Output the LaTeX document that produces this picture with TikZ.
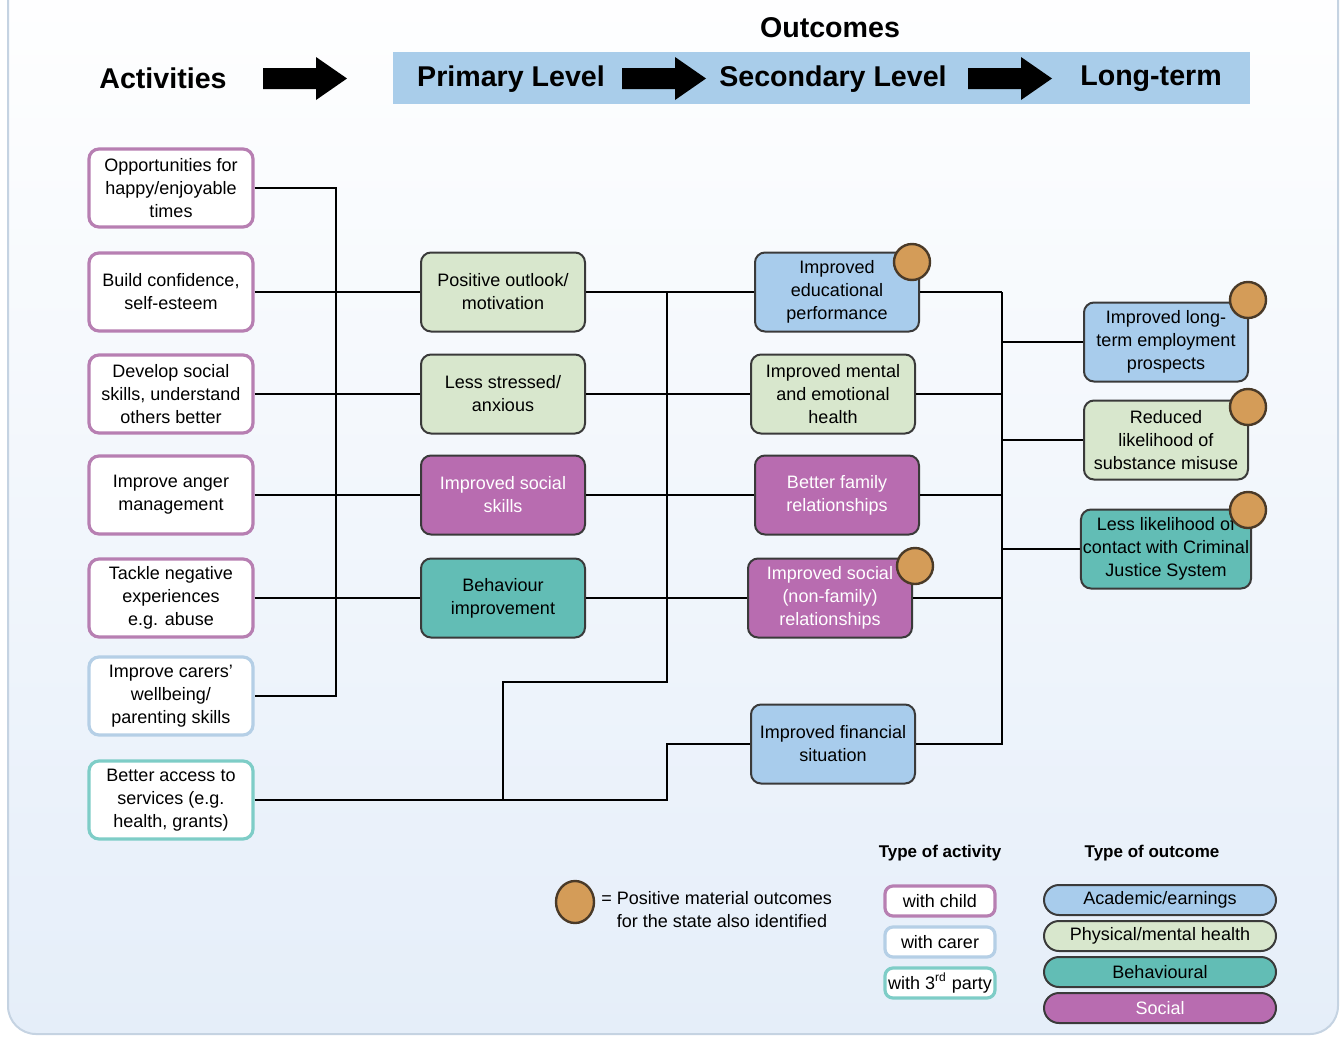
\documentclass[tikz,border=0pt]{standalone}
\usepackage{fontspec}
\setmainfont{Liberation Sans}
\usetikzlibrary{shapes.geometric}

\definecolor{hdr}{HTML}{A9CDEA}
\definecolor{acad}{HTML}{A8CCEC}
\definecolor{phys}{HTML}{D8E7CD}
\definecolor{behav}{HTML}{62BDB5}
\definecolor{social}{HTML}{B86CB0}
\definecolor{matc}{HTML}{D49C58}
\definecolor{dotline}{HTML}{4A3A28}
\definecolor{boxline}{HTML}{3A3A3A}
\definecolor{childc}{HTML}{B77FB2}
\definecolor{carerc}{HTML}{B5CFE6}
\definecolor{partyc}{HTML}{7ECDC7}
\definecolor{bgc}{HTML}{E5EEF9}
\definecolor{panelc}{HTML}{C5D3E2}

\newcommand{\boxfont}{\fontsize{9}{11.5}\selectfont}
\newcommand{\hdfont}{\fontsize{14.3}{17}\selectfont\bfseries}
\newcommand{\keyhd}{\fontsize{8.5}{10}\selectfont\bfseries}

\begin{document}
\begin{tikzpicture}[x=0.5pt,y=-0.5pt,
    actbox/.style={draw,line width=1.6pt,rounded corners=5pt,fill=white,minimum width=82pt,minimum height=39pt,inner sep=1pt,align=center,font=\boxfont},
    outbox/.style={draw=boxline,line width=1pt,rounded corners=5pt,minimum width=82pt,minimum height=39.5pt,inner sep=1pt,align=center,font=\boxfont},
    matdot/.style={circle,draw=dotline,fill=matc,line width=1.2pt,minimum size=18pt,inner sep=0pt},
    keyact/.style={draw,line width=1.6pt,rounded corners=4pt,fill=white,minimum width=55pt,minimum height=15pt,inner sep=1pt,font=\boxfont},
    keyout/.style={draw=boxline,line width=1pt,rounded corners=7.5pt,minimum width=116pt,minimum height=15pt,inner sep=1pt,font=\boxfont},
    link/.style={line width=1.3pt}]
    \useasboundingbox (0,0) rectangle (1344,1039);

    % panel and header
    \shade[top color=white,bottom color=bgc,draw=panelc,line width=1pt,rounded corners=14pt] (8,-40) rectangle (1338,1034);
    \fill[hdr] (393,52) rectangle (1250,104);
    \foreach \ax in {263,622,968}
    {
        \fill (\ax,68) -- ++(53,0) -- ++(0,-11) -- ++(31,21.5) -- ++(-31,21.5) -- ++(0,-11) -- ++(-53,0) -- cycle;
    }
    \node (outc) at (830,28)[font=\hdfont]{Outcomes};
    \node (acts) at (163,78)[font=\hdfont]{Activities};
    \node (prim) at (511,79)[font=\hdfont]{Primary Level};
    \node (secl) at (833,79)[font=\hdfont]{Secondary Level};
    \node (lterm) at (1151,79)[font=\hdfont]{Long-term};

    % activities
    \node (a1) at (171,188)[actbox,draw=childc]{Opportunities for\\happy/enjoyable\\times};
    \node (a2) at (171,292)[actbox,draw=childc]{Build confidence,\\self-esteem};
    \node (a3) at (171,394)[actbox,draw=childc]{Develop social\\skills, understand\\others better};
    \node (a4) at (171,495)[actbox,draw=childc]{Improve anger\\management};
    \node (a5) at (171,598)[actbox,draw=childc]{Tackle negative\\experiences\\e.g. abuse};
    \node (a6) at (171,696)[actbox,draw=carerc]{Improve carers'\\wellbeing/\\parenting skills};
    \node (a7) at (171,800)[actbox,draw=partyc]{Better access to\\services (e.g.\\health, grants)};

    % primary
    \node (p1) at (503,292)[outbox,fill=phys]{Positive outlook/\\motivation};
    \node (p2) at (503,394)[outbox,fill=phys]{Less stressed/\\anxious};
    \node (p3) at (503,495)[outbox,fill=social,text=white]{Improved social\\skills};
    \node (p4) at (503,598)[outbox,fill=behav]{Behaviour\\improvement};

    % secondary
    \node (s1) at (837,292)[outbox,fill=acad]{Improved\\educational\\performance};
    \node (s2) at (833,394)[outbox,fill=phys]{Improved mental\\and emotional\\health};
    \node (s3) at (837,495)[outbox,fill=social,text=white]{Better family\\relationships};
    \node (s4) at (830,598)[outbox,fill=social,text=white]{Improved social\\(non-family)\\relationships};
    \node (f) at (833,744)[outbox,fill=acad]{Improved financial\\situation};

    % long-term
    \node (l1) at (1166,342)[outbox,fill=acad]{Improved long-\\term employment\\prospects};
    \node (l2) at (1166,440)[outbox,fill=phys]{Reduced\\likelihood of\\substance misuse};
    \node (l3) at (1166,549)[outbox,fill=behav]{Less likelihood of\\contact with Criminal\\Justice System};

    % buses
    \coordinate (b1) at (336,0);
    \coordinate (b2) at (667,0);
    \coordinate (b3) at (503,682);
    \coordinate (b4) at (1002,0);

    \draw[link] (a1.east) -| (b1 |- a6.east) -- (a6.east);
    \foreach \a/\p/\s in {a2/p1/s1,a3/p2/s2,a4/p3/s3,a5/p4/s4}
    {
        \draw[link] (\a.east) -- (\p.west) (\p.east) -- (\s.west) (\s.east) -- (b4 |- \s.east);
    }
    \draw[link] (b2 |- p1.east) -- (b2 |- b3) -- (b3) -- (b3 |- a7.east);
    \draw[link] (a7.east) -| (b2 |- f.west) -- (f.west);
    \draw[link] (b4 |- s1.east) -- (b4 |- f.east) -- (f.east);
    \foreach \n in {l1,l2,l3}
    {
        \draw[link] (b4 |- \n.west) -- (\n.west);
    }

    % material outcome dots
    \foreach \cx/\cy [count=\i] in {912/262,915/566,1248/300,1248/407,1248/510}
    {
        \node (dot\i) at (\cx,\cy)[matdot]{};
    }

    % key
    \node (keydot) at (575,902)[matdot,ellipse,minimum width=19pt,minimum height=21pt]{};
    \node (keytxt) at (601,910)[anchor=west,align=left,inner sep=0pt,font=\boxfont]{= Positive material outcomes\\\phantom{= }for the state also identified};
    \node (acthd) at (940,853)[font=\keyhd]{Type of activity};
    \node (outhd) at (1152,853)[font=\keyhd]{Type of outcome};
    \node (ka1) at (940,901)[keyact,draw=childc]{with child};
    \node (ka2) at (940,942)[keyact,draw=carerc]{with carer};
    \node (ka3) at (940,983)[keyact,draw=partyc]{with 3\textsuperscript{rd} party};
    \node (ko1) at (1160,900)[keyout,fill=acad]{Academic/earnings};
    \node (ko2) at (1160,936)[keyout,fill=phys]{Physical/mental health};
    \node (ko3) at (1160,972)[keyout,fill=behav]{Behavioural};
    \node (ko4) at (1160,1008)[keyout,fill=social,text=white]{Social};
\end{tikzpicture}
\end{document}
